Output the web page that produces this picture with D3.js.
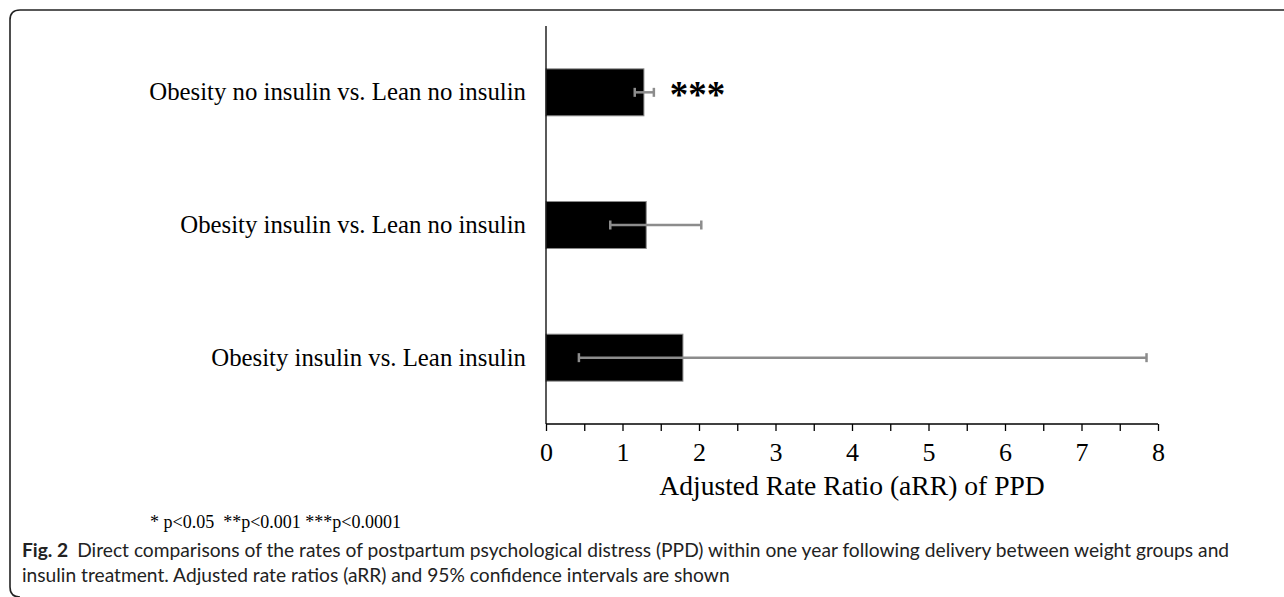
<!DOCTYPE html>
<html>
<head>
<meta charset="utf-8">
<script src="https://cdn.jsdelivr.net/npm/d3@7/dist/d3.min.js"></script>
<style>
  body { margin: 0; background: #fff; }
  svg { display: block; }
</style>
</head>
<body>
<svg id="chart" width="1284" height="597"></svg>
<script>
// data
var comparisons = ["Obesity no insulin vs. Lean no insulin",
                   "Obesity insulin vs. Lean no insulin",
                   "Obesity insulin vs. Lean insulin"];
var aRR = [1.28, 1.31, 1.79];
var ciLow = [1.16, 0.84, 0.43];
var ciHigh = [1.41, 2.03, 7.85];
var stars = ["***", "", ""];
var xTicks = [0, 1, 2, 3, 4, 5, 6, 7, 8];

var svg = d3.select("#chart");
var serif = "'Liberation Serif', 'Times New Roman', serif";

// rounded frame (top + left only)
svg.append("path")
    .attr("d", "M20,597 Q10,597 10,587 L10,20 Q10,10 20,10 L1284,10")
    .attr("fill", "none")
    .attr("stroke", "#222")
    .attr("stroke-width", 1.6);

var margin = {left: 546, top: 26, right: 126, bottom: 173};
var width = 1284 - margin.left - margin.right,
    height = 597 - margin.top - margin.bottom;
var g = svg.append("g").attr("transform", "translate(" + margin.left + "," + margin.top + ")");

var x = d3.scaleLinear().domain([0, 8]).range([0, width]);
var y = d3.scaleBand().domain(comparisons).range([0, height])
    .paddingInner(0.646).paddingOuter(0.323);

// bars
g.selectAll("rect.bar")
    .data(comparisons)
    .enter().append("rect")
    .attr("class", "bar")
    .attr("x", 0)
    .attr("y", function(d) { return y(d); })
    .attr("width", function(d, i) { return x(aRR[i]); })
    .attr("height", y.bandwidth())
    .attr("fill", "#000")
    .attr("stroke", "#8a8a8a")
    .attr("stroke-width", 1);

// error bars
var eb = g.selectAll("g.err")
    .data(comparisons)
    .enter().append("g")
    .attr("class", "err")
    .attr("stroke", "#8c8c8c")
    .attr("stroke-width", 2.5);
eb.append("line")
    .attr("x1", function(d, i) { return x(ciLow[i]); })
    .attr("x2", function(d, i) { return x(ciHigh[i]); })
    .attr("y1", function(d) { return y(d) + y.bandwidth() / 2; })
    .attr("y2", function(d) { return y(d) + y.bandwidth() / 2; });
eb.append("line")
    .attr("x1", function(d, i) { return x(ciLow[i]); })
    .attr("x2", function(d, i) { return x(ciLow[i]); })
    .attr("y1", function(d) { return y(d) + y.bandwidth() / 2 - 4.5; })
    .attr("y2", function(d) { return y(d) + y.bandwidth() / 2 + 4.5; });
eb.append("line")
    .attr("x1", function(d, i) { return x(ciHigh[i]); })
    .attr("x2", function(d, i) { return x(ciHigh[i]); })
    .attr("y1", function(d) { return y(d) + y.bandwidth() / 2 - 4.5; })
    .attr("y2", function(d) { return y(d) + y.bandwidth() / 2 + 4.5; });

// significance stars
g.selectAll("text.star")
    .data(comparisons)
    .enter().append("text")
    .attr("class", "star")
    .attr("x", function(d, i) { return x(ciHigh[i]) + 16; })
    .attr("y", function(d) { return y(d) + y.bandwidth() / 2 + 15; })
    .attr("font-family", serif)
    .attr("font-size", 37)
    .attr("font-weight", "bold")
    .text(function(d, i) { return stars[i]; });

// y axis (line + category labels)
var yAxis = g.append("g")
    .call(d3.axisLeft(y).tickSize(0).tickPadding(20));
yAxis.select(".domain").attr("stroke", "#000").attr("stroke-width", 1.3).attr("d", "M0,0V" + height);
yAxis.selectAll("text")
    .attr("font-family", serif)
    .attr("font-size", 24.8)
    .attr("fill", "#000");

// x axis
var xAxis = g.append("g")
    .attr("transform", "translate(0," + height + ")")
    .call(d3.axisBottom(x).tickValues(d3.range(0, 8.01, 0.5)).tickSize(7)
        .tickFormat(function(d) { return xTicks.indexOf(d) >= 0 ? d : ""; }));
xAxis.select(".domain").attr("stroke", "#000").attr("stroke-width", 1.3).attr("d", "M0,0H" + width);
xAxis.selectAll(".tick line").attr("stroke", "#000").attr("stroke-width", 1.3);
xAxis.selectAll("text")
    .attr("font-family", serif)
    .attr("font-size", 26)
    .attr("fill", "#000")
    .attr("dy", "1.05em");

// x axis title
g.append("text")
    .attr("x", width / 2)
    .attr("y", height + 71)
    .attr("text-anchor", "middle")
    .attr("font-family", serif)
    .attr("font-size", 27.6)
    .text("Adjusted Rate Ratio (aRR) of PPD");

// footnote
svg.append("text")
    .attr("x", 150)
    .attr("y", 528)
    .attr("font-family", serif)
    .attr("font-size", 18)
    .attr("xml:space", "preserve")
    .style("white-space", "pre")
    .text("* p<0.05  **p<0.001 ***p<0.0001");

// caption
var sans = "Lato, 'Open Sans', sans-serif";
var cap1 = svg.append("text").attr("x", 22).attr("y", 557)
    .attr("font-family", sans).attr("font-size", 19.2).attr("fill", "#222");
cap1.append("tspan").attr("font-weight", "bold").text("Fig. 2");
cap1.append("tspan").attr("dx", 9).text("Direct comparisons of the rates of postpartum psychological distress (PPD) within one year following delivery between weight groups and");
svg.append("text").attr("x", 22).attr("y", 582)
    .attr("font-family", sans).attr("font-size", 19.2).attr("fill", "#222")
    .text("insulin treatment. Adjusted rate ratios (aRR) and 95% confidence intervals are shown");
</script>
</body>
</html>
